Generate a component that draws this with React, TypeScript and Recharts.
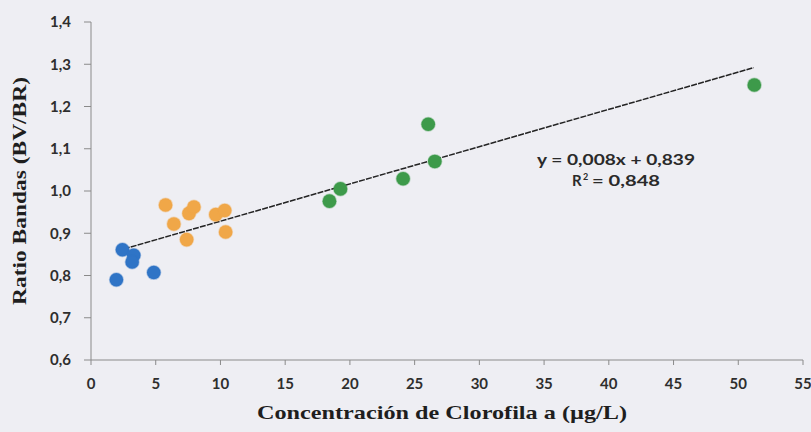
import React from 'react';
import { ScatterChart, Scatter, XAxis, YAxis, ReferenceLine } from 'recharts';

const blueX = [1.96, 2.43, 3.3, 3.18, 4.85];
const blueY = [0.79, 0.861, 0.848, 0.832, 0.807];
const orangeX = [5.76, 6.4, 7.39, 7.57, 7.95, 9.64, 10.33, 10.4];
const orangeY = [0.967, 0.922, 0.885, 0.947, 0.962, 0.944, 0.954, 0.903];
const greenX = [18.42, 19.27, 24.11, 26.05, 26.56, 51.24];
const greenY = [0.976, 1.005, 1.029, 1.158, 1.07, 1.251];
const trendX = [2.0, 51.2];
const trendY = [0.858, 1.292];
const xTicks = [0, 5, 10, 15, 20, 25, 30, 35, 40, 45, 50, 55];
const yTicks = [0.6, 0.7, 0.8, 0.9, 1.0, 1.1, 1.2, 1.3, 1.4];
const equationText = 'y = 0,008x + 0,839';
const r2Text = '= 0,848';
const xTitle = 'Concentración de Clorofila a (µg/L)';
const yTitle = 'Ratio Bandas (BV/BR)';

const toPts = (xs: number[], ys: number[]) => xs.map((x, i) => ({ x, y: ys[i] }));
const blue = toPts(blueX, blueY);
const orange = toPts(orangeX, orangeY);
const green = toPts(greenX, greenY);

const dot = (color: string) => (props: any) => (
  <circle cx={props.cx} cy={props.cy} r={6.8} fill={color} stroke={color} strokeOpacity={0.35} strokeWidth={1.5} />
);

const tickFont = { fontFamily: 'Lato, sans-serif', fontWeight: 700, fontSize: 15, fill: '#2e2e2e' };
const fmt = (v: number) => v.toFixed(1).replace('.', ',');
const annFont = { fontFamily: 'Lato, sans-serif', fontWeight: 700, fill: '#2a2a2a' } as const;

export default function App() {
  return (
    <div style={{ position: 'absolute', left: 0, top: 0, width: 811, height: 432, background: '#eeeef3' }}>
      <ScatterChart width={811} height={432} margin={{ top: 22, right: 8, bottom: 0, left: 0 }}>
        <XAxis
          type="number"
          dataKey="x"
          domain={[0, 55]}
          ticks={xTicks}
          interval={0}
          height={72}
          tickSize={5}
          tickMargin={13}
          tick={tickFont}
          axisLine={{ stroke: '#8a8a8a' }}
          tickLine={{ stroke: '#8a8a8a' }}
          allowDataOverflow
        />
        <YAxis
          type="number"
          dataKey="y"
          domain={[0.6, 1.4]}
          ticks={yTicks}
          interval={0}
          width={91}
          tickSize={7}
          tickMargin={13}
          tick={tickFont}
          tickFormatter={fmt}
          axisLine={{ stroke: '#8a8a8a' }}
          tickLine={{ stroke: '#8a8a8a' }}
          allowDataOverflow
        />
        <Scatter data={blue} fill="#2f74c6" shape={dot('#2f74c6')} isAnimationActive={false} />
        <Scatter data={orange} fill="#f0a748" shape={dot('#f0a748')} isAnimationActive={false} />
        <Scatter data={green} fill="#3d9a4a" shape={dot('#3d9a4a')} isAnimationActive={false} />
        <ReferenceLine
          segment={[{ x: trendX[0], y: trendY[0] }, { x: trendX[1], y: trendY[1] }]}
          stroke="#222222"
          strokeWidth={1.5}
          strokeDasharray="6 1.2"
        />
      </ScatterChart>
      <svg width={811} height={432} style={{ position: 'absolute', left: 0, top: 0, pointerEvents: 'none' }}>
        <text x={442} y={419} textAnchor="middle" fontFamily="'Liberation Serif', 'DejaVu Serif', serif" fontWeight={700} fontSize={19} fill="#1e1e1e" textLength={370} lengthAdjust="spacingAndGlyphs">{xTitle}</text>
        <text x={0} y={0} transform="translate(26,191) rotate(-90)" textAnchor="middle" fontFamily="'Liberation Serif', 'DejaVu Serif', serif" fontWeight={700} fontSize={19} fill="#1e1e1e" textLength={228} lengthAdjust="spacingAndGlyphs">{yTitle}</text>
        <text x={537} y={165} textAnchor="start" {...annFont} fontSize={15} textLength={158} lengthAdjust="spacingAndGlyphs">{equationText}</text>
        <text x={572} y={186} textAnchor="start" {...annFont} fontSize={15}>R</text>
        <text x={583} y={180} textAnchor="start" {...annFont} fontSize={9}>2</text>
        <text x={592} y={186} textAnchor="start" {...annFont} fontSize={15} textLength={68} lengthAdjust="spacingAndGlyphs">{r2Text}</text>
      </svg>
    </div>
  );
}
